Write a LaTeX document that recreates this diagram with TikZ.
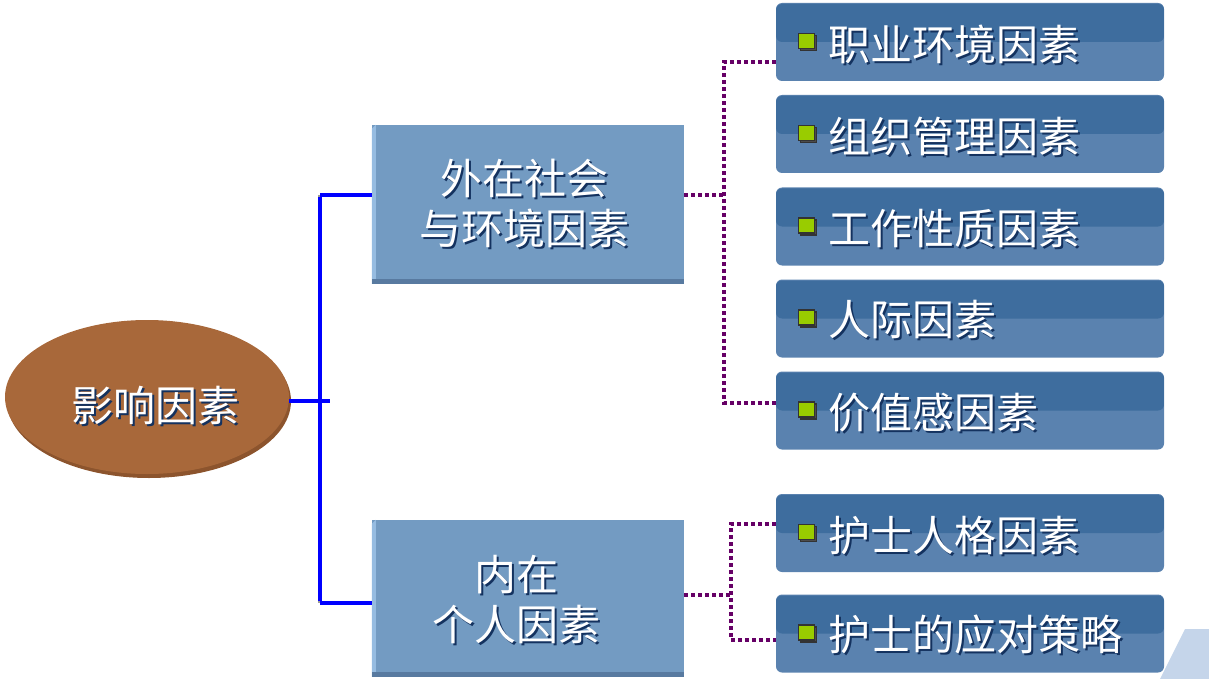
\documentclass[tikz,border=0pt]{standalone}
\usepackage{fontspec}
\newfontfamily\cjk{Noto Sans CJK SC}
\usetikzlibrary{calc,shapes.geometric}
\definecolor{rootfill}{RGB}{168,104,58}
\definecolor{rootshade}{RGB}{140,84,45}
\definecolor{midfill}{RGB}{115,155,194}
\definecolor{midlight}{RGB}{150,188,225}
\definecolor{middark}{RGB}{88,122,160}
\definecolor{leaflight}{RGB}{90,130,175}
\definecolor{leafdark}{RGB}{62,109,158}
\definecolor{txtshadow}{RGB}{20,50,95}
\definecolor{bluelink}{RGB}{0,0,255}
\definecolor{purplelink}{RGB}{102,0,102}
\definecolor{bulletgreen}{RGB}{153,204,0}
\definecolor{decor}{RGB}{197,213,234}
\newcommand\ShTxt[4]{%
  \node[shtxt,anchor=#3] at ($(#2)+(2,2)$) {#4};
  \node[lbl,anchor=#3] (#1) at (#2) {#4};}
\begin{document}
\begin{tikzpicture}[x=1pt,y=-1pt,
  lbl/.style={text=white,font=\cjk\fontsize{42}{50}\selectfont,align=center,inner sep=0},
  shtxt/.style={text=txtshadow,font=\cjk\fontsize{42}{50}\selectfont,align=center,inner sep=0},
  rootnode/.style={ellipse,minimum width=284,minimum height=154,inner sep=0,fill=rootfill},
  midbox/.style={rectangle,minimum width=312,inner sep=0,fill=midfill},
  leafbox/.style={rectangle,rounded corners=6,minimum width=388,minimum height=78,inner sep=0,
    fill=leaflight,path picture={\fill[leafdark] ([yshift=-1pt]path picture bounding box.north west) rectangle (path picture bounding box.east);}},
  bullet/.style={rectangle,minimum width=16,minimum height=15,inner sep=0,fill=bulletgreen,draw=black!80,line width=1.2pt},
  bluel/.style={draw=bluelink,line width=3.5pt},
  bluesh/.style={draw=black!40,line width=3.5pt},
  purpl/.style={draw=purplelink,line width=4pt,dash pattern=on 4pt off 3pt},
  purpsh/.style={draw=black!35,line width=4pt,dash pattern=on 4pt off 3pt}]
\useasboundingbox (0,0) rectangle (1209,679);
% background decoration
\fill[decor] (1160,679) -- (1185,629) -- (1209,629) -- (1209,679) -- cycle;
% root ellipse
\node[rootnode,fill=rootshade] (rootsh) at (149,401) {};
\node[rootnode] (root) at (147,397) {};
% middle boxes
\node[midbox,minimum height=159] (b1) at (528,204.5) {};
\fill[midlight] (b1.north west) ++(0,4) -- ++(4,-4) -- ++(0,159) -- ++(-4,0) -- cycle;
\fill[middark] (b1.south west) rectangle ++(312,-5);
\node[midbox,minimum height=157] (b2) at (528,598.5) {};
\fill[midlight] (b2.north west) ++(0,4) -- ++(4,-4) -- ++(0,157) -- ++(-4,0) -- cycle;
\fill[middark] (b2.south west) rectangle ++(312,-5);
% leaf boxes
\node[leafbox] (r1) at (970,42) {};
\node[leafbox] (r2) at (970,134) {};
\node[leafbox] (r3) at (970,226.5) {};
\node[leafbox] (r4) at (970,318.5) {};
\node[leafbox] (r5) at (970,410.5) {};
\node[leafbox] (r6) at (970,533) {};
\node[leafbox] (r7) at (970,633.5) {};
% junction coordinates
\coordinate (jb) at (320,401);
\coordinate (jbend) at (330,401);
\coordinate (jt) at (320,195);
\coordinate (jd) at (320,603);
\coordinate (pm) at (724,195);
\coordinate (pt) at (724,62);
\coordinate (pb) at (724,403);
\coordinate (qm) at (731,595);
\coordinate (qt) at (731,524);
\coordinate (qb) at (731,640);
% blue connectors (shadow then line)
\begin{scope}[shift={(3,3)}]
\draw[bluesh] (root.east |- jb) -- (jbend);
\draw[bluesh] (jt) -- (jd);
\draw[bluesh] (jt) -- (b1.west |- jt);
\draw[bluesh] (jd) -- (b2.west |- jd);
\end{scope}
\draw[bluel] (root.east |- jb) -- (jbend);
\draw[bluel] ([yshift=-1.75pt]jt) -- ([yshift=1.75pt]jd);
\draw[bluel] (jt) -- (b1.west |- jt);
\draw[bluel] (jd) -- (b2.west |- jd);
% purple dotted connectors
\begin{scope}[shift={(2,2)}]
\draw[purpsh] (b1.east |- pm) -- (pm);
\draw[purpsh] (r1.west |- pt) -- (pt) -- (pb) -- (r5.west |- pb);
\draw[purpsh] (b2.east |- qm) -- (qm);
\draw[purpsh] (r6.west |- qt) -- (qt) -- (qb) -- (r7.west |- qb);
\end{scope}
\draw[purpl] (b1.east |- pm) -- (pm);
\draw[purpl] (r1.west |- pt) -- (pt) -- (pb) -- (r5.west |- pb);
\draw[purpl] (b2.east |- qm) -- (qm);
\draw[purpl] (r6.west |- qt) -- (qt) -- (qb) -- (r7.west |- qb);
% bullets
\foreach \r in {r1,r2,r3,r4,r5,r6,r7}{
  \node[bullet,fill=black!70] at ($(\r.west)+(33,1)$) {};
  \node[bullet] (\r b) at ($(\r.west)+(31,-1)$) {};
}
% labels
\ShTxt{rootlbl}{155,405}{center}{影响因素}
\ShTxt{b1lbl}{524,204}{center}{外在社会\\与环境因素}
\ShTxt{b2lbl}{516,600}{center}{内在\\个人因素}
\ShTxt{r1lbl}{828,44}{west}{职业环境因素}
\ShTxt{r2lbl}{828,136}{west}{组织管理因素}
\ShTxt{r3lbl}{828,228}{west}{工作性质因素}
\ShTxt{r4lbl}{828,320}{west}{人际因素}
\ShTxt{r5lbl}{828,413}{west}{价值感因素}
\ShTxt{r6lbl}{828,536}{west}{护士人格因素}
\ShTxt{r7lbl}{828,635}{west}{护士的应对策略}
\end{tikzpicture}
\end{document}
